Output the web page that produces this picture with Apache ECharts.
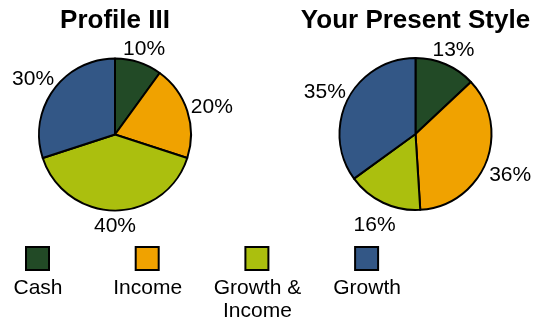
<!DOCTYPE html>
<html lang="en">
<head>
    <meta charset="UTF-8">
    <title>Profile III vs Your Present Style</title>
    <style>
        html, body { margin: 0; padding: 0; background: #fff; }
        #main { width: 539px; height: 322px; }
    </style>
    <script src="https://cdn.jsdelivr.net/npm/echarts@6/dist/echarts.min.js"></script>
</head>
<body>

<div id="main"></div>

<script>

    // data
    var categories = ['Cash', 'Income', 'Growth & Income', 'Growth'];
    var legendLabels = ['Cash', 'Income', 'Growth &\nIncome', 'Growth'];
    var profileValues = [10, 20, 40, 30];     // Profile III
    var presentValues = [13, 36, 16, 35];     // Your Present Style
    var pieTitles = ['Profile III', 'Your Present Style'];

    var colors = ['#224a26', '#f0a200', '#abbf0e', '#335786'];
    var font = '"Liberation Sans", Arial, sans-serif';

    var chartDom = document.getElementById('main');
    var myChart = echarts.init(chartDom);

    // pie layout
    var centers = [[115, 134.5], [415.5, 134]];
    var radius = 76;

    // put each % label centred on the slice's mid-angle, just outside the rim
    function placeLabel(p) {
        var pts = p.labelLinePoints;
        if (!pts) return {};
        var ex = pts[0][0], ey = pts[0][1];
        var vx = pts[1][0] - ex, vy = pts[1][1] - ey;
        var len = Math.sqrt(vx * vx + vy * vy) || 1;
        vx /= len; vy /= len;
        var hw = p.labelRect.width / 2, hh = 9;
        var d = 3 + hw * Math.abs(vx) + hh * Math.abs(vy);
        return {
            x: ex + vx * d,
            y: ey + vy * d + 4,
            align: 'center',
            verticalAlign: 'middle'
        };
    }

    function makePie(values, idx) {
        var data = [];
        for (var i = 0; i < categories.length; i++) {
            data.push({ name: categories[i], value: values[i] });
        }
        return {
            type: 'pie',
            name: pieTitles[idx],
            center: centers[idx],
            radius: radius,
            startAngle: 90,
            clockwise: true,
            avoidLabelOverlap: false,
            silent: true,
            itemStyle: { borderColor: '#000', borderWidth: 2 },
            label: {
                show: true,
                position: 'outside',
                formatter: function (p) { return p.value + '%'; },
                color: '#000',
                fontSize: 21,
                fontFamily: font
            },
            labelLine: { show: true, length: 10, length2: 0, lineStyle: { width: 0, opacity: 0 } },
            labelLayout: placeLabel,
            emphasis: { disabled: true },
            data: data
        };
    }

    // legend: square above, name below
    var graphics = [];
    for (var i = 0; i < categories.length; i++) {
        var cx = 38 + i * 109.7;
        graphics.push({
            type: 'rect',
            shape: { x: cx - 12, y: 247, width: 23, height: 23 },
            style: { fill: colors[i], stroke: '#000', lineWidth: 2 }
        });
        graphics.push({
            type: 'text',
            x: cx,
            y: 277,
            style: {
                text: legendLabels[i],
                fill: '#000',
                font: '21px ' + font,
                align: 'center',
                verticalAlign: 'top',
                lineHeight: 23
            }
        });
    }

    var titleStyle = { fontSize: 26, fontWeight: 'bold', fontFamily: font, color: '#000' };

    var option = {
        animation: false,
        color: colors,
        title: [
            { text: pieTitles[0], left: centers[0][0], top: 8, padding: 0, textAlign: 'center', textStyle: titleStyle },
            { text: pieTitles[1], left: centers[1][0], top: 8, padding: 0, textAlign: 'center', textStyle: titleStyle }
        ],
        series: [makePie(profileValues, 0), makePie(presentValues, 1)],
        graphic: graphics
    };

    option && myChart.setOption(option);

</script>

</body>
</html>
